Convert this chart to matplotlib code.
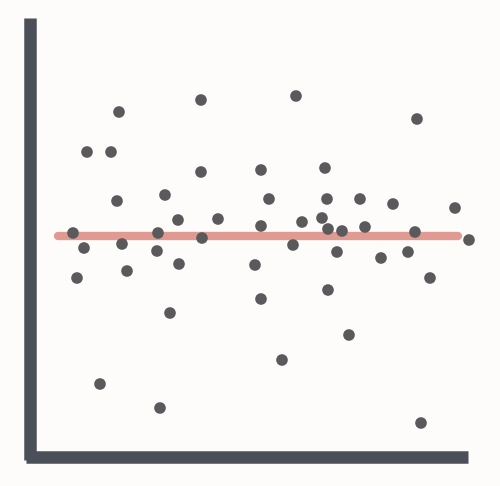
import matplotlib
matplotlib.use("Agg")
import matplotlib.pyplot as plt

xs = [73, 84, 77, 87, 111, 119, 117, 122, 127, 100, 158, 157, 165, 178, 179, 170, 160,
      201, 201, 202, 218, 255, 261, 269, 261, 261, 282, 293, 296, 302, 322, 325, 327,
      328, 342, 337, 328, 349, 360, 365, 381, 393, 408, 415, 417, 430, 421, 455, 469]
ys = [233, 248, 278, 152, 152, 112, 201, 244, 271, 384, 233, 251, 195, 220, 264, 313, 408,
      100, 172, 238, 219, 265, 170, 199, 226, 299, 360, 245, 96, 222, 218, 168, 199,
      229, 231, 252, 290, 335, 199, 227, 258, 204, 252, 232, 119, 278, 423, 208, 240]
mean_y = 236
line_x = [58, 458]

fig = plt.figure(figsize=(5, 4.86), dpi=100, facecolor="#fdfcfa")
ax = fig.add_axes([0, 0, 1, 1])
ax.set_facecolor("#fdfcfa")
ax.set_xlim(0, 500)
ax.set_ylim(486, 0)
ax.axis("off")

ax.plot([30, 30], [18, 460], color="#4b4f57", lw=9, solid_capstyle="butt")
ax.plot([26, 468], [457, 457], color="#4b4f57", lw=9, solid_capstyle="butt")
ax.plot(line_x, [mean_y, mean_y], color="#de8f86", lw=6, alpha=0.9, solid_capstyle="round")
ax.scatter(xs, ys, s=70, color="#5a5a5c", zorder=3, edgecolors="none")

fig.savefig("out.png", dpi=100, facecolor=fig.get_facecolor())
